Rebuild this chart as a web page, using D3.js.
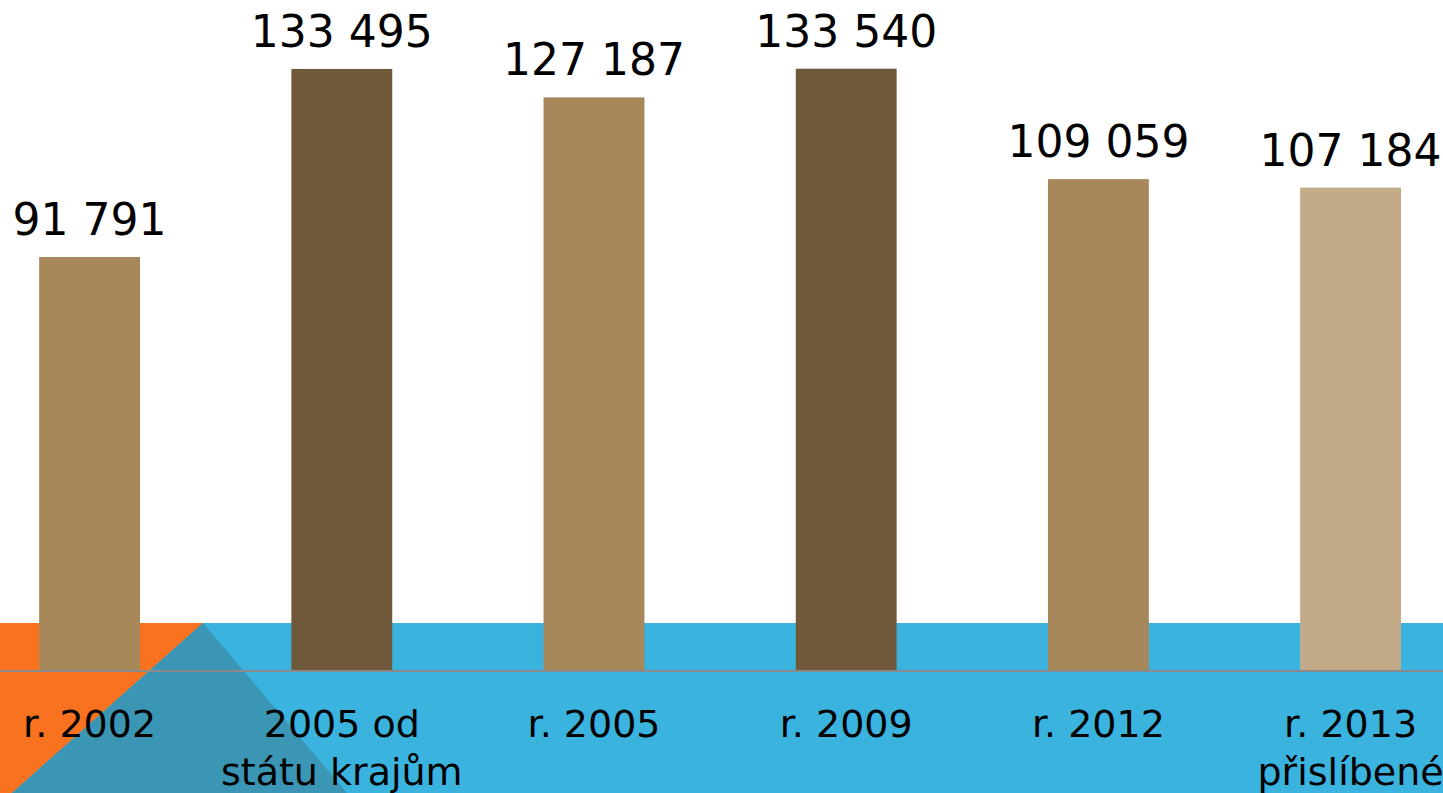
<!DOCTYPE html>
<html><head><meta charset="utf-8">
<script src="https://cdn.jsdelivr.net/npm/d3@7"></script>
<style>html,body{margin:0;padding:0;background:#fff;overflow:hidden}svg{display:block}</style>
</head><body>
<svg id="c" width="1443" height="793"></svg>
<script>
const categories = [["r. 2002"], ["2005 od", "státu krajům"], ["r. 2005"], ["r. 2009"], ["r. 2012"], ["r. 2013", "přislíbené"]];
const values = [91791, 133495, 127187, 133540, 109059, 107184];
const barColors = ["#a6885a", "#6f593a", "#a6885a", "#6f593a", "#a6885a", "#c3ab8a"];

const W = 1443, H = 793;
const svg = d3.select("#c");
const baseY = 671;

const x = d3.scaleBand().domain(d3.range(values.length)).range([-36.5, 1476.7]).paddingInner(0.6).paddingOuter(0.3);
const y = d3.scaleLinear().domain([0, 148780]).range([baseY, 0]);

// decorative background band
svg.append("rect").attr("x", 0).attr("y", 623).attr("width", W).attr("height", H - 623).attr("fill", "#3ab3df");
svg.append("polygon").attr("points", "0,623 203,623 12,793 0,793").attr("fill", "#f97220");
svg.append("polygon").attr("points", "203,623 12,793 347,793").attr("fill", "#3a96b4");

// bars
svg.selectAll("rect.bar").data(values).join("rect").attr("class", "bar")
  .attr("x", (d, i) => x(i)).attr("width", x.bandwidth())
  .attr("y", d => y(d)).attr("height", d => baseY - y(d))
  .attr("fill", (d, i) => barColors[i]);

// baseline
svg.append("line").attr("x1", 0).attr("x2", W).attr("y1", baseY).attr("y2", baseY)
  .attr("stroke", "#8a8a8a").attr("stroke-width", 2);

const fmt = v => d3.format(",")(v).replace(/,/g, " ");

// value labels
svg.selectAll("text.val").data(values).join("text").attr("class", "val")
  .attr("x", (d, i) => x(i) + x.bandwidth() / 2).attr("y", d => y(d) - 22)
  .attr("text-anchor", "middle").attr("font-family", "DejaVu Sans").attr("font-size", 44)
  .attr("fill", "#000").text(fmt);

// category labels
const cat = svg.selectAll("text.cat").data(categories).join("text").attr("class", "cat")
  .attr("text-anchor", "middle").attr("font-family", "DejaVu Sans").attr("font-size", 38).attr("fill", "#000");
cat.selectAll("tspan").data((d, i) => d.map(s => ({ s, i }))).join("tspan")
  .attr("x", d => x(d.i) + x.bandwidth() / 2)
  .attr("y", (d, j) => 737 + j * 48)
  .text(d => d.s);
</script>
</body></html>
